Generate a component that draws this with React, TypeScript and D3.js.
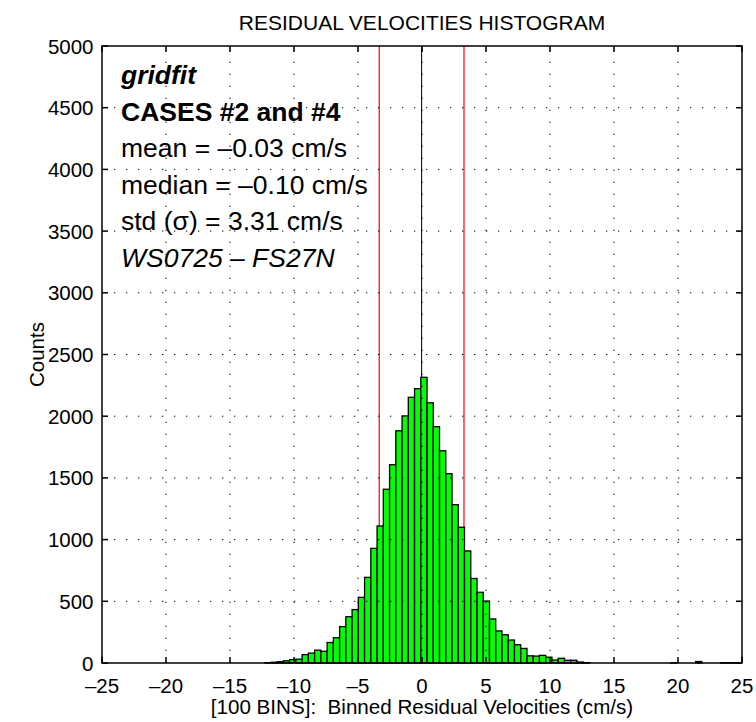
import React, { useEffect, useRef } from 'react';
import * as d3 from 'd3';

// 100 bins between the data min and max
const BIN_MIN = -24.006;
const BIN_WIDTH = 0.488;
const binCounts: number[] = [
  0, 0, 0, 0, 0, 0, 0, 0, 0, 0,
  0, 0, 0, 0, 0, 0, 0, 0, 0, 0,
  0, 0, 0, 0, 2, 6, 10, 18, 27, 31,
  68, 80, 104, 95, 166, 205, 295, 375, 433, 532,
  694, 929, 1110, 1408, 1607, 1882, 2002, 2153, 2223, 2315,
  2109, 1915, 1720, 1534, 1283, 1100, 908, 685, 573, 502,
  357, 260, 229, 186, 148, 118, 58, 56, 62, 47,
  24, 38, 22, 22, 8, 3, 0, 0, 0, 0,
  0, 0, 0, 0, 0, 0, 0, 0, 0, 2,
  0, 0, 0, 12, 0, 0, 0, 2, 2, 2,
];

const MEAN = -0.03;
const STD = 3.31;

const xTicks = [-25, -20, -15, -10, -5, 0, 5, 10, 15, 20, 25];
const yTicks = [0, 500, 1000, 1500, 2000, 2500, 3000, 3500, 4000, 4500, 5000];

const titleText = 'RESIDUAL VELOCITIES HISTOGRAM';
const xLabelText = '[100 BINS]:  Binned Residual Velocities (cm/s)';
const yLabelText = 'Counts';

const noteLines = [
  'gridfit',
  'CASES #2 and #4',
  'mean = \u20130.03 cm/s',
  'median = \u20130.10 cm/s',
  'std (\u03c3) = 3.31 cm/s',
  'WS0725 \u2013 FS27N',
];
const noteWeights = ['bold', 'bold', 'normal', 'normal', 'normal', 'normal'];
const noteStyles = ['italic', 'normal', 'normal', 'normal', 'normal', 'italic'];

const FONT = '"Liberation Sans", Arial, Helvetica, sans-serif';

const fmt = (v: number) => (v < 0 ? '\u2013' + Math.abs(v) : String(v));

const App: React.FC = () => {
  const svgRef = useRef<SVGSVGElement>(null);

  useEffect(() => {
    if (!svgRef.current) return;
    const svg = d3.select(svgRef.current);
    svg.selectAll('*').remove();

    const width = 756;
    const height = 722;
    const margin = { top: 46, right: 14, bottom: 59, left: 102 };

    const x = d3.scaleLinear().domain([-25, 25]).range([margin.left, width - margin.right]);
    const y = d3.scaleLinear().domain([0, 5000]).range([height - margin.bottom, margin.top]);

    svg.append('rect').attr('width', width).attr('height', height).attr('fill', '#fff');

    // mean / mean ± std lines (behind bars)
    svg.append('line')
      .attr('x1', x(MEAN)).attr('x2', x(MEAN))
      .attr('y1', y(0)).attr('y2', y(5000))
      .attr('stroke', '#000').attr('stroke-width', 1);
    [MEAN - STD, MEAN + STD].forEach(v => {
      svg.append('line')
        .attr('x1', x(v)).attr('x2', x(v))
        .attr('y1', y(0)).attr('y2', y(5000))
        .attr('stroke', '#ff0000').attr('stroke-width', 1.2);
    });

    // bars
    const bins = binCounts.map((c, i) => ({ x0: BIN_MIN + i * BIN_WIDTH, x1: BIN_MIN + (i + 1) * BIN_WIDTH, c }));
    svg.append('g')
      .selectAll('rect')
      .data(bins.filter(d => d.c > 0))
      .enter()
      .append('rect')
      .attr('x', d => x(d.x0))
      .attr('width', d => x(d.x1) - x(d.x0))
      .attr('y', d => y(d.c))
      .attr('height', d => y(0) - y(d.c))
      .attr('fill', '#00ff00')
      .attr('stroke', '#000')
      .attr('stroke-width', 1.3);

    // dotted grid
    const grid = svg.append('g')
      .attr('stroke', '#000')
      .attr('stroke-width', 1)
      .attr('stroke-dasharray', '1.3,10.7');
    xTicks.slice(1, -1).forEach(t => {
      grid.append('line')
        .attr('x1', x(t)).attr('x2', x(t))
        .attr('y1', y(0)).attr('y2', y(5000));
    });
    yTicks.slice(1, -1).forEach(t => {
      grid.append('line')
        .attr('x1', x(-25)).attr('x2', x(25))
        .attr('y1', y(t)).attr('y2', y(t));
    });

    // box + inward ticks
    const axes = svg.append('g').attr('stroke', '#000').attr('stroke-width', 1.5);
    axes.append('rect')
      .attr('x', x(-25)).attr('y', y(5000))
      .attr('width', x(25) - x(-25)).attr('height', y(0) - y(5000))
      .attr('fill', 'none');
    const tl = 6;
    xTicks.forEach(t => {
      axes.append('line').attr('x1', x(t)).attr('x2', x(t)).attr('y1', y(0)).attr('y2', y(0) - tl);
      axes.append('line').attr('x1', x(t)).attr('x2', x(t)).attr('y1', y(5000)).attr('y2', y(5000) + tl);
    });
    yTicks.forEach(t => {
      axes.append('line').attr('x1', x(-25)).attr('x2', x(-25) + tl).attr('y1', y(t)).attr('y2', y(t));
      axes.append('line').attr('x1', x(25)).attr('x2', x(25) - tl).attr('y1', y(t)).attr('y2', y(t));
    });

    // tick labels
    svg.append('g')
      .selectAll('text')
      .data(xTicks)
      .enter()
      .append('text')
      .attr('x', d => x(d))
      .attr('y', y(0) + 30)
      .attr('text-anchor', 'middle')
      .attr('font-family', FONT)
      .attr('font-size', 20.5)
      .text(d => fmt(d));

    svg.append('g')
      .selectAll('text')
      .data(yTicks)
      .enter()
      .append('text')
      .attr('x', x(-25) - 8.5)
      .attr('y', d => y(d) + 7.5)
      .attr('text-anchor', 'end')
      .attr('font-family', FONT)
      .attr('font-size', 20.5)
      .text(d => String(d));

    // title and axis labels
    svg.append('text')
      .attr('x', x(0)).attr('y', 30)
      .attr('text-anchor', 'middle')
      .attr('font-family', FONT).attr('font-size', 21)
      .text(titleText);
    svg.append('text')
      .attr('x', x(0)).attr('y', 714)
      .attr('text-anchor', 'middle')
      .attr('font-family', FONT).attr('font-size', 20.6)
      .style('white-space', 'pre')
      .text(xLabelText);
    svg.append('text')
      .attr('transform', `translate(44,${(y(0) + y(5000)) / 2}) rotate(-90)`)
      .attr('text-anchor', 'middle')
      .attr('font-family', FONT).attr('font-size', 20.5)
      .text(yLabelText);

    // annotation block
    svg.append('g')
      .selectAll('text')
      .data(noteLines)
      .enter()
      .append('text')
      .attr('x', 121)
      .attr('y', (_, i) => 84 + i * 36.6)
      .attr('font-family', FONT)
      .attr('font-size', 26.5)
      .attr('font-weight', (_, i) => noteWeights[i])
      .attr('font-style', (_, i) => noteStyles[i])
      .text(d => d);
  }, []);

  return (
    <svg
      ref={svgRef}
      width={756}
      height={722}
      style={{ position: 'absolute', left: 0, top: 0, display: 'block' }}
    />
  );
};

export default App;
